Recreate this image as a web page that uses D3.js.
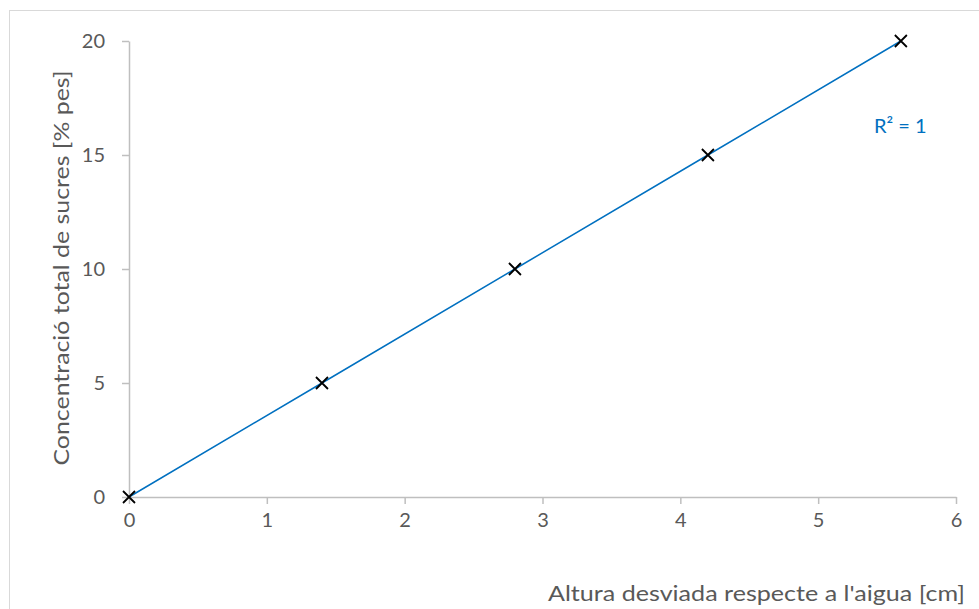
<!DOCTYPE html>
<html>
<head>
<meta charset="utf-8">
<script src="https://cdn.jsdelivr.net/npm/d3@7"></script>
<style>
  body { margin: 0; background: #fff; }
  text { font-family: Lato, "Open Sans", sans-serif; fill: #595959; }
</style>
</head>
<body>
<svg></svg>
<script>
var width = 979, height = 609;

// data
var alturaCm = [0, 1.4, 2.8, 4.2, 5.6];
var concentracio = [0, 5, 10, 15, 20];
var xTicks = [0, 1, 2, 3, 4, 5, 6];
var yTicks = [0, 5, 10, 15, 20];
var xTitle = "Altura desviada respecte a l'aigua [cm]";
var yTitle = "Concentració total de sucres [% pes]";
var r2Label = "R² = 1";

var points = alturaCm.map(function(d, i) { return {x: d, y: concentracio[i]}; });

var svg = d3.select("svg")
	.attr("width", width)
	.attr("height", height);

// chart area border
svg.append("rect")
	.attr("x", 9.5)
	.attr("y", 10.5)
	.attr("width", 990)
	.attr("height", 620)
	.attr("fill", "none")
	.attr("stroke", "#d9d9d9");

var x = d3.scaleLinear().domain([0, 6]).range([129, 956]);
var y = d3.scaleLinear().domain([0, 20]).range([497, 41]);

var xAxis = svg.append("g")
	.attr("transform", "translate(0," + y(0) + ")")
	.call(d3.axisBottom(x).tickValues(xTicks).tickFormat(d3.format("d"))
		.tickSize(7).tickPadding(9).tickSizeOuter(0));

var yAxis = svg.append("g")
	.attr("transform", "translate(" + x(0) + ",0)")
	.call(d3.axisLeft(y).tickValues(yTicks).tickFormat(d3.format("d"))
		.tickSize(7).tickPadding(17).tickSizeOuter(0));

[xAxis, yAxis].forEach(function(a) {
	a.select(".domain").attr("stroke", "#bfbfbf").attr("stroke-width", 1.5);
	a.selectAll(".tick line").attr("stroke", "#bfbfbf").attr("stroke-width", 1.5);
	a.selectAll(".tick text")
		.style("font-family", "Lato, sans-serif")
		.attr("font-size", 20)
		.attr("fill", "#595959");
});

// trendline
var line = d3.line()
	.x(function(d) { return x(d.x); })
	.y(function(d) { return y(d.y); });

svg.append("path")
	.datum(points)
	.attr("d", line)
	.attr("fill", "none")
	.attr("stroke", "#0070c0")
	.attr("stroke-width", 1.5);

// x markers
var s = 6;
svg.append("g")
	.selectAll("path")
	.data(points)
	.enter()
	.append("path")
	.attr("d", function(d) {
		var cx = x(d.x), cy = y(d.y);
		return "M" + (cx - s) + "," + (cy - s) + "L" + (cx + s) + "," + (cy + s) +
			"M" + (cx - s) + "," + (cy + s) + "L" + (cx + s) + "," + (cy - s);
	})
	.attr("stroke", "#000")
	.attr("stroke-width", 1.8)
	.attr("fill", "none");

svg.append("text")
	.attr("x", 874)
	.attr("y", 133)
	.attr("font-size", 20)
	.style("fill", "#0070c0")
	.text(r2Label);

svg.append("text")
	.attr("x", 965)
	.attr("y", 601)
	.attr("text-anchor", "end")
	.attr("font-size", 22)
	.attr("textLength", 417)
	.attr("lengthAdjust", "spacingAndGlyphs")
	.text(xTitle);

svg.append("text")
	.attr("transform", "translate(69,268) rotate(-90)")
	.attr("text-anchor", "middle")
	.attr("font-size", 22)
	.attr("textLength", 395)
	.attr("lengthAdjust", "spacingAndGlyphs")
	.text(yTitle);
</script>
</body>
</html>
